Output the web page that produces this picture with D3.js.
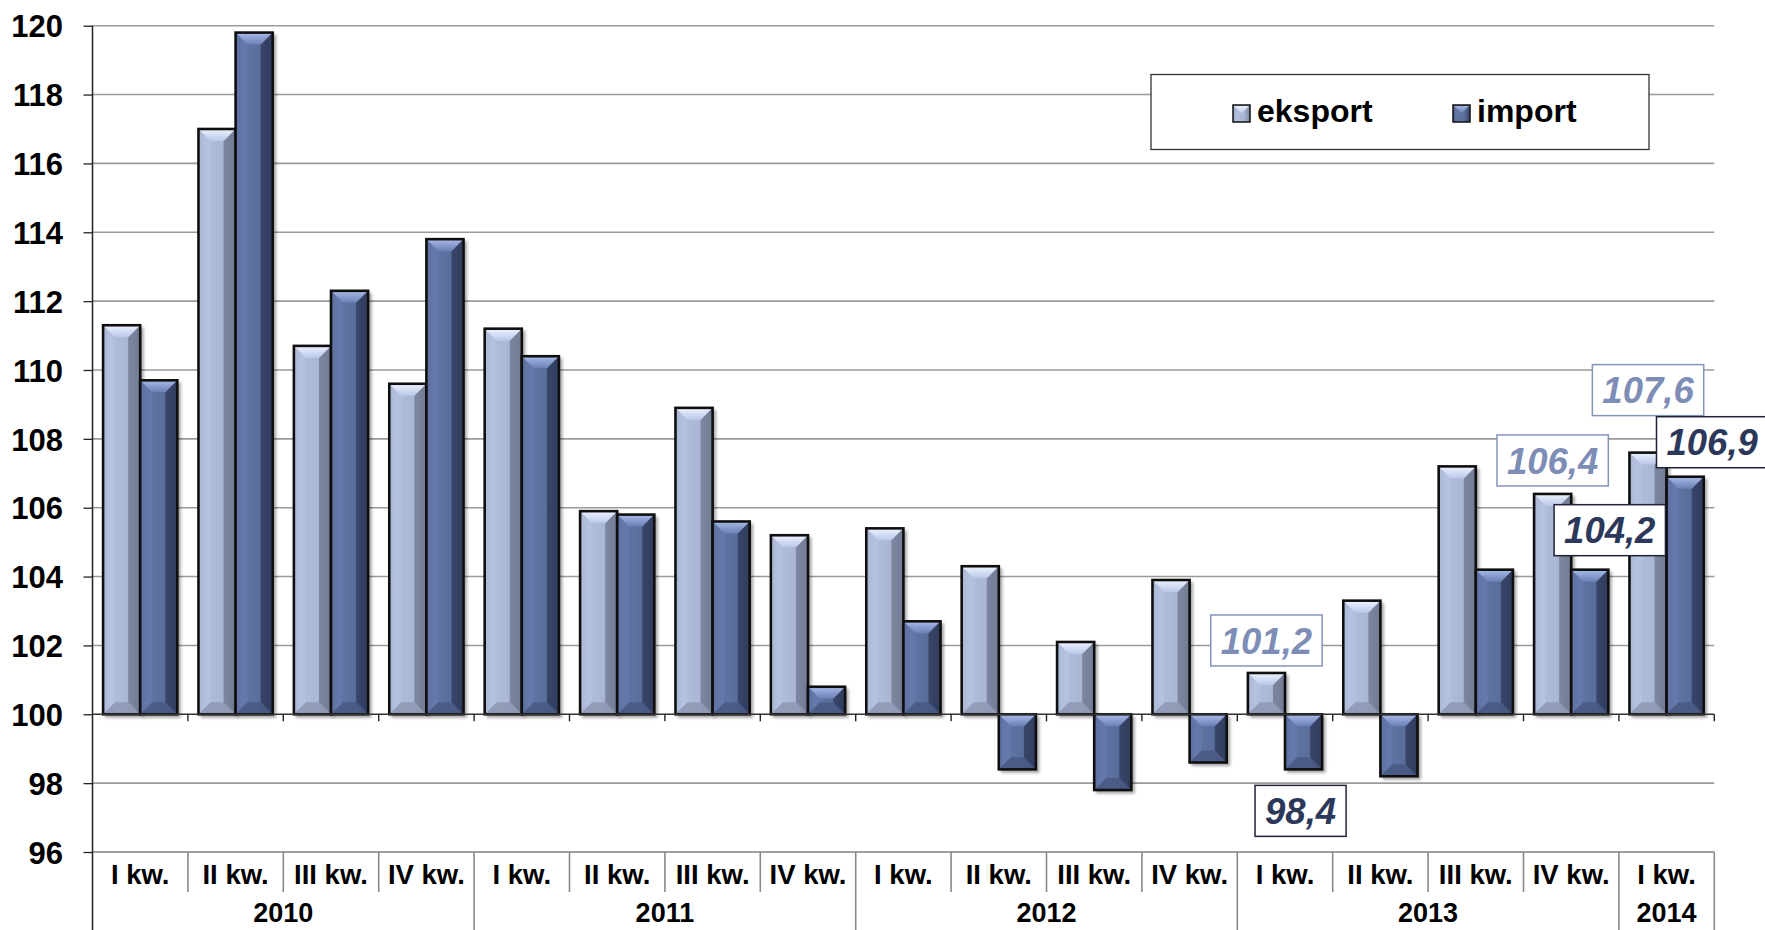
<!DOCTYPE html>
<html><head><meta charset="utf-8">
<script src="https://cdn.jsdelivr.net/npm/d3@7/dist/d3.min.js"></script>
<style>html,body{margin:0;padding:0;background:#fff;}svg{display:block;}</style>
</head><body>
<svg id="c" width="1765" height="930"></svg>
<script>
const quarters = ["I kw.","II kw.","III kw.","IV kw.","I kw.","II kw.","III kw.","IV kw.","I kw.","II kw.","III kw.","IV kw.","I kw.","II kw.","III kw.","IV kw.","I kw."];
const years = ["2010","2011","2012","2013","2014"];
const yearSpans = [4,4,4,4,1];
const eksport = [111.3,117.0,110.7,109.6,111.2,105.9,108.9,105.2,105.4,104.3,102.1,103.9,101.2,103.3,107.2,106.4,107.6];
const importV = [109.7,119.8,112.3,113.8,110.4,105.8,105.6,100.8,102.7,98.4,97.8,98.6,98.4,98.2,104.2,104.2,106.9];
const seriesNames = ["eksport","import"];
const yTicks = [96,98,100,102,104,106,108,110,112,114,116,118,120];
const labelled = [[12,"eksport"],[12,"import"],[15,"eksport"],[15,"import"],[16,"eksport"],[16,"import"]];

const svg = d3.select("#c");
const FONT = "Arial, 'Liberation Sans', sans-serif";
const L = 92.5, R = 1714.3, T = 25.7, B = 852;
const idx = quarters.map((d,i)=>i);
const x = d3.scaleBand().domain(idx).range([L,R]).paddingInner(0).paddingOuter(0);
const xs = d3.scaleBand().domain(seriesNames).range([0,x.bandwidth()]).paddingInner(0).paddingOuter(0.285);
const y = d3.scaleLinear().domain([96,120]).range([B,T]);
const base = 100;

const defs = svg.append("defs");
const pal = {
  eksport:{face:["#9aa7c4","#b0bddb","#a9b6d4","#7c869e"], top:["#eef3ff","#b9c7e8"], bot:"#8d98b3", right:"#6f7890", left:"#b8c5e2"},
  import:{face:["#4f628d","#6175a5","#5a6e9c","#38456a"], top:["#a9bbe8","#6a80b4"], bot:"#485883", right:"#2f3a5a", left:"#677cae"}
};
seriesNames.forEach(s=>{
  const p = pal[s];
  const g = defs.append("linearGradient").attr("id","face-"+s).attr("x1",0).attr("x2",1).attr("y1",0).attr("y2",0);
  [[0,p.face[0]],[0.2,p.face[1]],[0.65,p.face[2]],[1,p.face[3]]].forEach(([o,c])=>g.append("stop").attr("offset",o).attr("stop-color",c));
  const t = defs.append("linearGradient").attr("id","top-"+s).attr("x1",0).attr("x2",0).attr("y1",0).attr("y2",1);
  t.append("stop").attr("offset",0).attr("stop-color",p.top[0]);
  t.append("stop").attr("offset",1).attr("stop-color",p.top[1]);
});
const sh = defs.append("filter").attr("id","shadow").attr("x","-20%").attr("y","-20%").attr("width","140%").attr("height","140%");
sh.append("feGaussianBlur").attr("stdDeviation",1.5);

// gridlines
svg.append("g").selectAll("line").data(yTicks.filter(v=>v!==base)).join("line")
  .attr("x1",L).attr("x2",R).attr("y1",d=>y(d)).attr("y2",d=>y(d))
  .attr("stroke","#9a9a9a").attr("stroke-width",1.6);

// y axis
const yAxis = d3.axisLeft(y).tickValues(yTicks).tickSize(9).tickPadding(20.5).tickFormat(d3.format("d"));
const ga = svg.append("g").attr("transform",`translate(${L},0)`).call(yAxis);
ga.select(".domain").remove();
ga.selectAll(".tick line").attr("stroke","#222").attr("stroke-width",1.3);
ga.selectAll(".tick text").attr("font-family",FONT).attr("font-weight","bold").attr("font-size",31).attr("fill","#000").attr("dy","0.36em");

// bars
const data = [];
idx.forEach(i=>{
  data.push({i, s:"eksport", v:eksport[i]});
  data.push({i, s:"import", v:importV[i]});
});
const bars = svg.append("g");
data.forEach(d=>{
  const x0 = x(d.i)+xs(d.s), w = xs.bandwidth(), x1 = x0+w;
  const yt = Math.min(y(d.v),y(base)), yb = Math.max(y(d.v),y(base));
  const h = yb-yt;
  const b = Math.min(12, h/2, w/2);
  const p = pal[d.s];
  const g = bars.append("g");
  g.append("rect").attr("x",x0+2).attr("y",yt+2).attr("width",w+1.5).attr("height",h+1.5)
    .attr("fill","#000").attr("opacity",0.35).attr("filter","url(#shadow)");
  g.append("rect").attr("x",x0).attr("y",yt).attr("width",w).attr("height",h).attr("fill",`url(#face-${d.s})`);
  const poly = pts => g.append("polygon").attr("points",pts.map(q=>q.join(",")).join(" "));
  poly([[x0,yt],[x0+b,yt+b],[x0+b,yb-b],[x0,yb]]).attr("fill",p.left).attr("opacity",0.55);
  poly([[x1,yt],[x1-b,yt+b],[x1-b,yb-b],[x1,yb]]).attr("fill",p.right).attr("opacity",0.75);
  poly([[x0,yb],[x0+b,yb-b],[x1-b,yb-b],[x1,yb]]).attr("fill",p.bot).attr("opacity",0.85);
  poly([[x0,yt],[x1,yt],[x1-b,yt+b],[x0+b,yt+b]]).attr("fill",`url(#top-${d.s})`);
  g.append("rect").attr("x",x0).attr("y",yt).attr("width",w).attr("height",h)
    .attr("fill","none").attr("stroke","#0f0f0f").attr("stroke-width",2.6);
});

// axis line at 100 with ticks
svg.append("line").attr("x1",L).attr("x2",R).attr("y1",y(base)).attr("y2",y(base)).attr("stroke","#333").attr("stroke-width",1.4);
svg.append("g").selectAll("line").data(d3.range(1,quarters.length+1)).join("line")
  .attr("x1",i=>L+i*x.step()).attr("x2",i=>L+i*x.step())
  .attr("y1",y(base)).attr("y2",y(base)+7).attr("stroke","#222").attr("stroke-width",1.4);

// category table
const tbl = svg.append("g");
tbl.append("line").attr("x1",L).attr("x2",R).attr("y1",B).attr("y2",B).attr("stroke","#9a9a9a").attr("stroke-width",1.6);
const yearBounds = [];
let acc = 0; yearSpans.forEach(n=>{acc+=n; yearBounds.push(acc);});
d3.range(1,quarters.length+1).forEach(i=>{
  const isYear = yearBounds.includes(i);
  tbl.append("line").attr("x1",L+i*x.step()).attr("x2",L+i*x.step())
    .attr("y1",B).attr("y2",isYear?930:892).attr("stroke","#8a8a8a").attr("stroke-width",1.6);
});
tbl.selectAll("text.q").data(quarters).join("text").attr("class","q")
  .attr("x",(d,i)=>x(i)+x.bandwidth()/2).attr("y",883.5).attr("text-anchor","middle")
  .attr("font-family",FONT).attr("font-weight","bold").attr("font-size",27.5).attr("fill","#000").text(d=>d);
let start = 0;
years.forEach((yr,k)=>{
  const n = yearSpans[k];
  tbl.append("text").attr("x",L+(start+n/2)*x.step()).attr("y",922).attr("text-anchor","middle")
    .attr("font-family",FONT).attr("font-weight","bold").attr("font-size",27).attr("fill","#000").text(yr);
  start += n;
});
// left axis line
svg.append("line").attr("x1",L).attr("x2",L).attr("y1",T).attr("y2",930).attr("stroke","#222").attr("stroke-width",1.5);

// data labels
const lblStyle = {
  eksport:{fill:"#7d8db6", stroke:"#8594ba"},
  import:{fill:"#2c3859", stroke:"#1e2336"}
};
const lblPos = {"12-eksport":{dx:0,gap:7},"12-import":{dx:-3,gap:16},"15-eksport":{dx:0,gap:8},"15-import":{dx:20,gap:14},"16-eksport":{dx:0,gap:37},"16-import":{dx:27,gap:9}};
const fmt = v => v.toFixed(1).replace(".",",");
labelled.forEach(([i,s])=>{
  const v = s==="eksport"?eksport[i]:importV[i];
  const pos = lblPos[i+"-"+s];
  const cx = x(i)+xs(s)+xs.bandwidth()/2 + pos.dx;
  const bh = 51;
  let top;
  if (v>=base) top = y(v)-pos.gap-bh; else top = y(v)+pos.gap;
  const g = svg.append("g");
  const r = g.append("rect");
  const t = g.append("text").attr("x",cx).attr("y",top+bh/2).attr("dy","0.36em").attr("text-anchor","middle")
    .attr("font-family",FONT).attr("font-weight","bold").attr("font-style","italic").attr("font-size",36.5)
    .attr("fill",lblStyle[s].fill).text(fmt(v));
  const tw = t.node().getComputedTextLength();
  const bw = tw+20;
  r.attr("x",cx-bw/2).attr("y",top).attr("width",bw).attr("height",bh)
    .attr("fill","#fff").attr("stroke",lblStyle[s].stroke).attr("stroke-width",1.5);
});

// legend
const lg = svg.append("g");
lg.append("rect").attr("x",1151).attr("y",74.5).attr("width",498).attr("height",75)
  .attr("fill","#fff").attr("stroke","#333").attr("stroke-width",1.3);
const legX = [1233,1453];
seriesNames.forEach((s,k)=>{
  lg.append("rect").attr("x",legX[k]).attr("y",105).attr("width",17).attr("height",17).attr("fill",`url(#face-${s})`).attr("stroke","#111").attr("stroke-width",1.5);
  lg.append("polygon").attr("points",`${legX[k]+1},${106} ${legX[k]+16},${106} ${legX[k]+8.5},${113.5}`).attr("fill",`url(#top-${s})`).attr("opacity",0.9);
  lg.append("text").attr("x",legX[k]+24).attr("y",122).attr("font-family",FONT).attr("font-weight","bold").attr("font-size",32).attr("fill","#000").text(s);
});
</script>
</body></html>
